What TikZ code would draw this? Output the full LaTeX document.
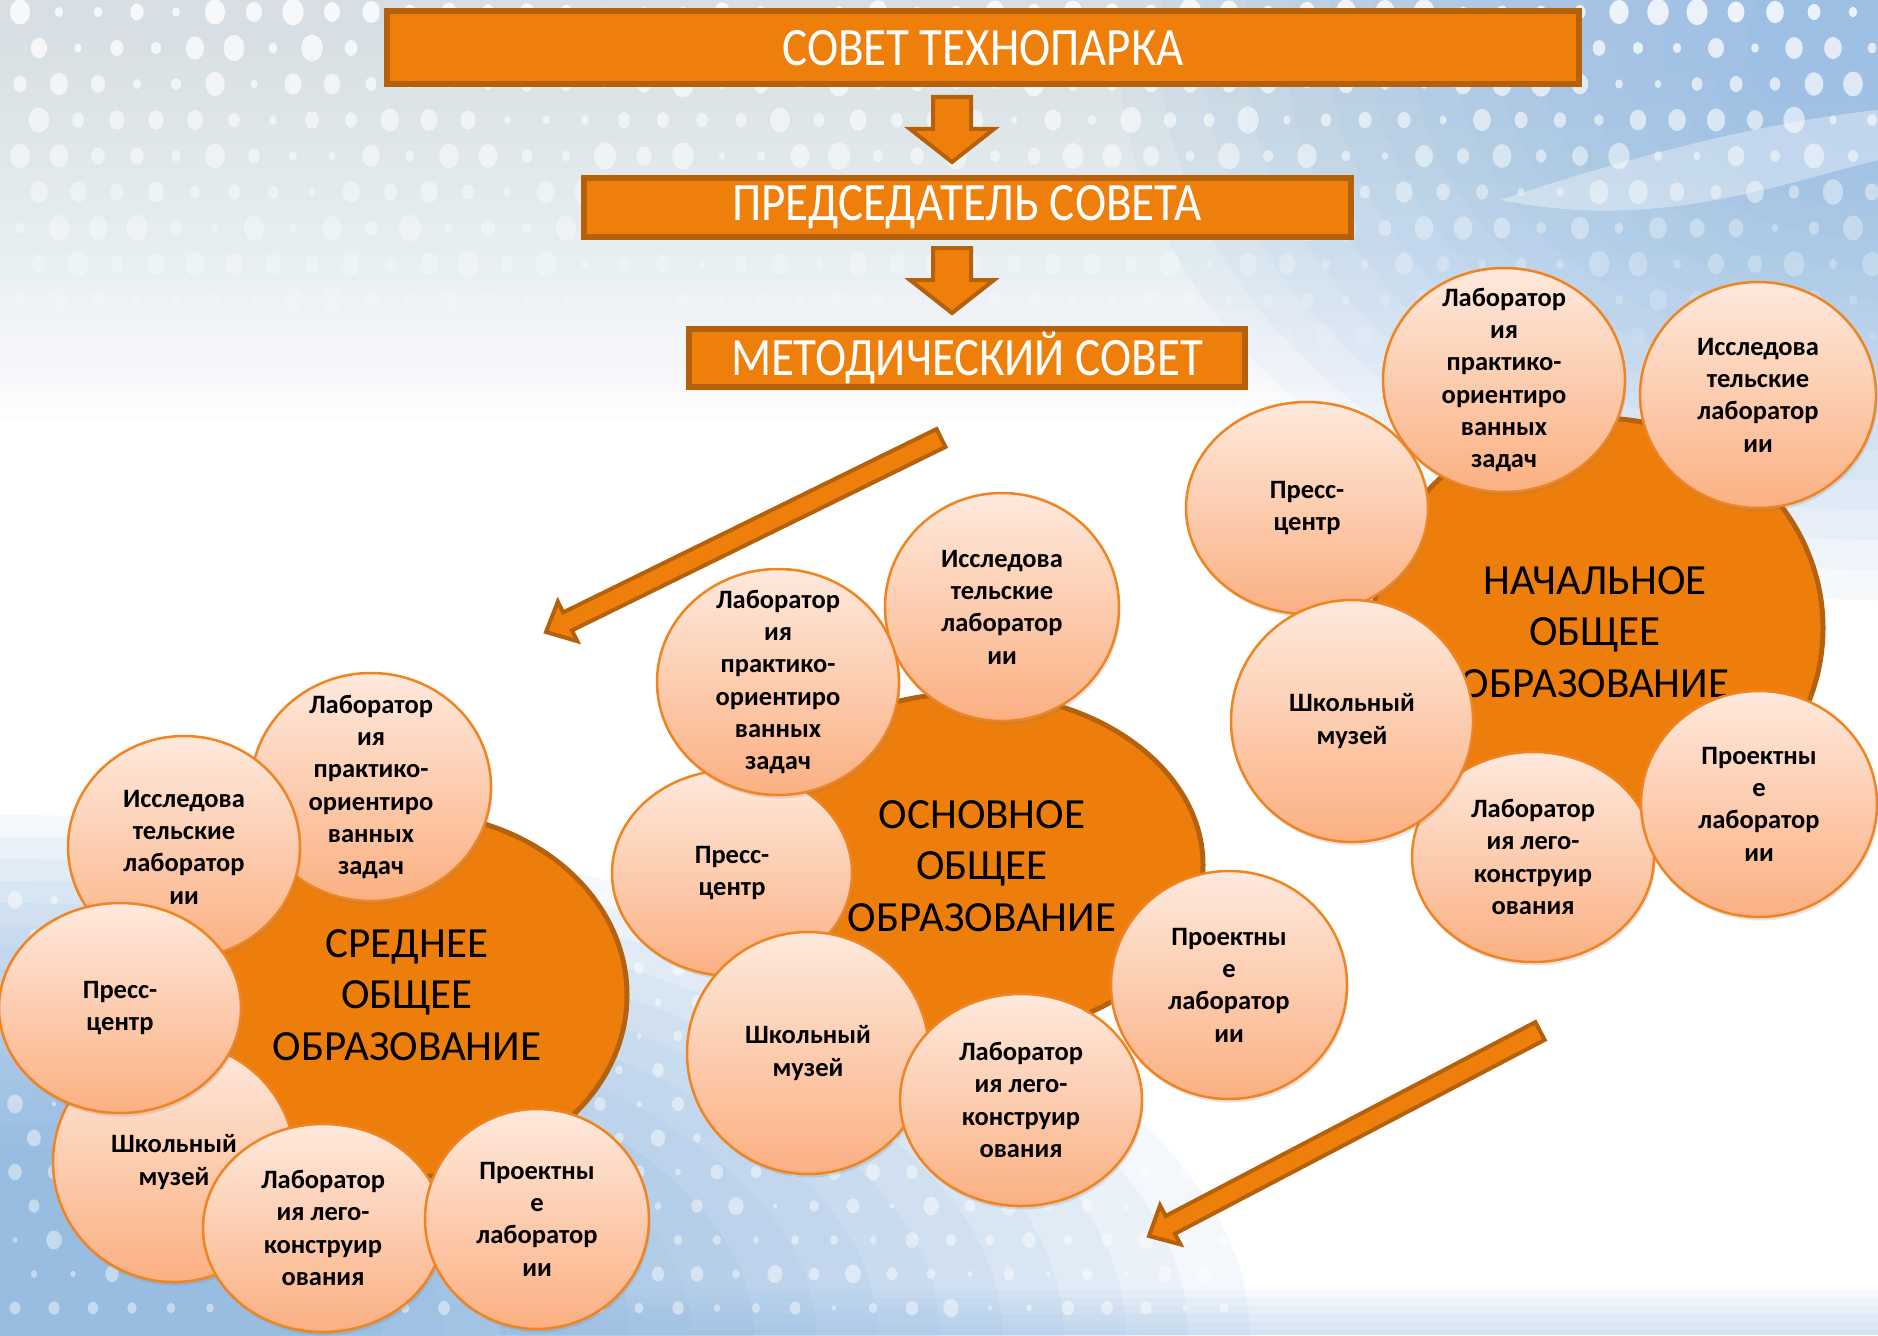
\documentclass[tikz,border=0pt]{standalone}
\usepackage{fontspec}
\setmainfont{Carlito}
\usetikzlibrary{shapes.geometric,calc,shadows}
\definecolor{org}{HTML}{EF7F0B}
\definecolor{orgdark}{HTML}{B5600B}
\definecolor{peachtop}{HTML}{FEE9DD}
\definecolor{peachbot}{HTML}{FBB082}
\definecolor{circline}{HTML}{EF8420}
\definecolor{bigfill}{HTML}{EE7E0C}
\definecolor{bigline}{HTML}{B5620F}
\definecolor{bgpale}{HTML}{C9D9E4}
\definecolor{bgblue}{HTML}{8DB8E4}
\definecolor{bgblue2}{HTML}{78AADB}
\newcommand\smallcirc[6]{%
  \node[sc, minimum width=#4, minimum height=#5] (#1) at (#2,#3) {};
  \node[sctext] (#1-t) at (#1) {#6};}
\newcommand\blockarrow[5]{% start, end, shaft half width, head half width, head length
  \path[barrow] ($(#1)!#3!90:(#2)$)
    -- ($($(#2)!#5!(#1)$)!#3!-90:(#1)$)
    -- ($($(#2)!#5!(#1)$)!#4!-90:(#1)$)
    -- (#2)
    -- ($($(#2)!#5!(#1)$)!#4!90:(#1)$)
    -- ($($(#2)!#5!(#1)$)!#3!90:(#1)$)
    -- ($(#1)!#3!-90:(#2)$) -- cycle;}
\begin{document}
\begin{tikzpicture}[x=1pt,y=-1pt,
  box/.style={draw=orgdark, fill=org, line width=6pt, inner sep=0pt, text=white,
    font=\fontsize{47}{50}\selectfont},
  big/.style={ellipse, draw=bigline, fill=bigfill, line width=5pt, inner sep=0pt},
  bigtxt/.style={align=center, inner sep=0pt, text=black, font=\fontsize{43}{51.5}\selectfont},
  sc/.style={ellipse, draw=circline, line width=2.5pt, top color=peachtop, bottom color=peachbot,
    inner sep=0pt, drop shadow={shadow xshift=1.5pt, shadow yshift=-3.5pt, opacity=0.22}},
  sctext/.style={align=center, inner sep=0pt, text=black, font=\bfseries\fontsize{26.5}{32.3}\selectfont},
  barrow/.style={draw=orgdark, fill=org, line width=4pt, line join=miter}
]
% ---------- background ----------
\fill[white] (0,0) rectangle (1878,1335);
\useasboundingbox (0,0) rectangle (1878,1335);
% pale top band, fading downwards
\foreach \i in {0,...,27}{
  \fill[bgpale, opacity=0.03] (0,0) rectangle (1878,{420-14*\i});
}
% blue at top right
\foreach \i in {0,...,15}{
  \fill[bgblue, opacity=0.075] (1878,40) ellipse ({760-42*\i} and {560-30*\i});
}
% white streak at top right
\fill[white, opacity=0.35] (1500,200) .. controls (1650,150) and (1780,120) .. (1878,110)
  -- (1878,160) .. controls (1760,190) and (1650,230) .. (1500,200) -- cycle;
% blue at bottom left
\foreach \i in {0,...,15}{
  \fill[bgblue2, opacity=0.08] (0,1335) ellipse ({1250-62*\i} and {520-22*\i});
}
% light strip along the bottom
\foreach \i in {0,...,5}{
  \fill[bgblue, opacity=0.07] (500,{1290+8*\i}) rectangle (1878,1335);
}
% dots, top
\pgfmathsetseed{7}
\foreach \k in {0,...,9}{
  \foreach \j in {0,...,47}{
    \pgfmathsetmacro\rr{3+8*rnd}
    \pgfmathsetmacro\op{0.8-0.075*\k}
    \fill[white, opacity=\op] ({20+39*\j+mod(\k,2)*19},{12+36*\k}) ellipse ({\rr} and {\rr*1.25});
  }
}
% dots, bottom
\begin{scope}
\clip (0,1335) ellipse (1250 and 520);
\foreach \k in {0,...,12}{
  \foreach \j in {0,...,34}{
    \pgfmathsetmacro\rr{2+6*rnd}
    \fill[white, opacity=0.45] ({15+39*\j+mod(\k,2)*19},{900+34*\k}) ellipse ({\rr} and {\rr*1.2});
  }
}
\end{scope}
% ---------- top boxes ----------
\node[box, minimum width=1192, minimum height=73] (b1) at (983,48) {\scalebox{1}[1.15]{СОВЕТ ТЕХНОПАРКА}};
\node[box, minimum width=767, minimum height=59] (b2) at (967,207) {\scalebox{1}[1.15]{ПРЕДСЕДАТЕЛЬ СОВЕТА}};
\node[box, minimum width=556, minimum height=58] (b3) at (967,358) {\scalebox{1}[1.15]{МЕТОДИЧЕСКИЙ СОВЕТ}};
\coordinate (a1s) at (952,97);
\coordinate (a1e) at (952,162);
\coordinate (a2s) at (952,248);
\coordinate (a2e) at (952,313);
\blockarrow{a1s}{a1e}{19pt}{42pt}{33pt}
\blockarrow{a2s}{a2e}{19pt}{42pt}{33pt}
% diagonal arrows
\coordinate (d1s) at (941,438);
\coordinate (d1e) at (546,632);
\coordinate (d2s) at (1540,1031);
\coordinate (d2e) at (1149,1236);
\blockarrow{d1s}{d1e}{10pt}{22pt}{24pt}
\blockarrow{d2s}{d2e}{10pt}{22pt}{24pt}
% ---------- cluster 1: СРЕДНЕЕ ----------
\node[big, minimum width=434, minimum height=364] (e1) at (410,995) {};
\node[bigtxt] (e1-t) at (407,995) {СРЕДНЕЕ\\ОБЩЕЕ\\ОБРАЗОВАНИЕ};
\smallcirc{c1p}{371}{787}{240}{228}{Лаборатор\\ия\\практико-\\ориентиро\\ванных\\задач}
\smallcirc{c1i}{184}{847}{232}{222}{Исследова\\тельские\\лаборатор\\ии}
\smallcirc{c1m}{174}{1162}{242}{240}{Школьный\\музей}
\smallcirc{c1pc}{120}{1008}{242}{210}{Пресс-\\центр}
\smallcirc{c1l}{323}{1228}{240}{208}{Лаборатор\\ия лего-\\конструир\\ования}
\smallcirc{c1r}{537}{1219}{224}{220}{Проектны\\е\\лаборатор\\ии}
% ---------- cluster 2: ОСНОВНОЕ ----------
\node[big, minimum width=466, minimum height=344] (e2) at (970,865) {};
\node[bigtxt] (e2-t) at (982,866) {ОСНОВНОЕ\\ОБЩЕЕ\\ОБРАЗОВАНИЕ};
\smallcirc{c2i}{1002}{607}{234}{228}{Исследова\\тельские\\лаборатор\\ии}
\smallcirc{c2pc}{732}{873}{240}{206}{Пресс-\\центр}
\smallcirc{c2p}{778}{682}{242}{226}{Лаборатор\\ия\\практико-\\ориентиро\\ванных\\задач}
\smallcirc{c2m}{808}{1053}{242}{242}{Школьный\\музей}
\smallcirc{c2l}{1021}{1100}{242}{212}{Лаборатор\\ия лего-\\конструир\\ования}
\smallcirc{c2r}{1229}{985}{236}{228}{Проектны\\е\\лаборатор\\ии}
% ---------- cluster 3: НАЧАЛЬНОЕ ----------
\node[big, minimum width=450, minimum height=420] (e3) at (1598,628) {};
\node[bigtxt] (e3-t) at (1595,632) {НАЧАЛЬНОЕ\\ОБЩЕЕ\\ОБРАЗОВАНИЕ};
\smallcirc{c3p}{1504}{380}{242}{224}{Лаборатор\\ия\\практико-\\ориентиро\\ванных\\задач}
\smallcirc{c3i}{1758}{395}{236}{226}{Исследова\\тельские\\лаборатор\\ии}
\smallcirc{c3pc}{1307}{508}{242}{212}{Пресс-\\центр}
\smallcirc{c3l}{1533}{857}{242}{210}{Лаборатор\\ия лего-\\конструир\\ования}
\smallcirc{c3m}{1352}{721}{242}{242}{Школьный\\музей}
\smallcirc{c3r}{1759}{804}{236}{226}{Проектны\\е\\лаборатор\\ии}
\end{tikzpicture}
\end{document}
